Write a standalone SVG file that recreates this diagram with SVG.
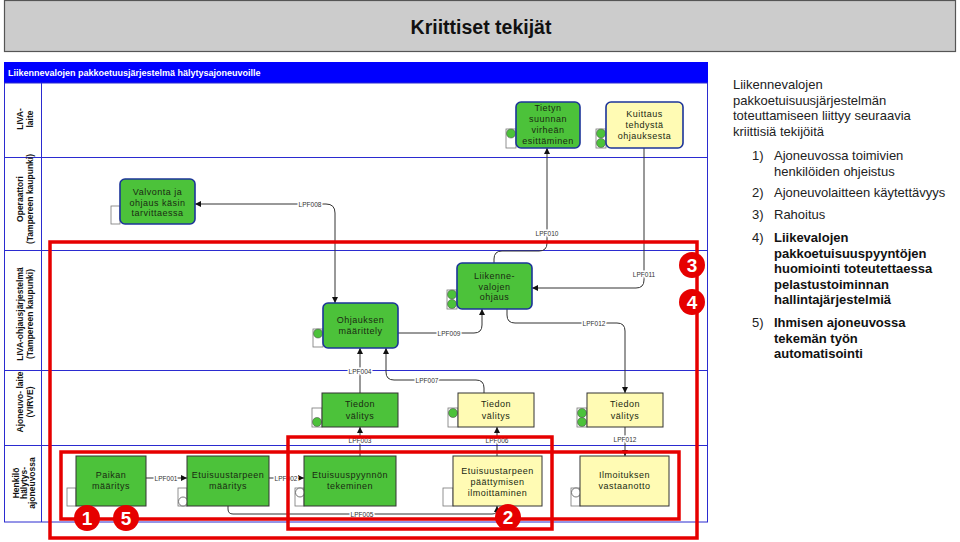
<svg xmlns="http://www.w3.org/2000/svg" width="960" height="542" viewBox="0 0 960 542">
<defs>
<style>
.lane{fill:none;stroke:#2b2bd0;stroke-width:1}
.lanelbl{font-family:"Liberation Sans",Arial,sans-serif;font-size:8.5px;font-weight:bold;fill:#111;text-anchor:middle}
.gr{fill:#4cc23a;stroke:#1c3499;stroke-width:1.6}
.ye{fill:#fffbb4;stroke:#1c3499;stroke-width:1.6}
.grs{fill:#4cc23a;stroke:#333;stroke-width:1}
.yes{fill:#fffbb4;stroke:#333;stroke-width:1}
.nt{font-family:"Liberation Sans",Arial,sans-serif;font-size:9px;letter-spacing:0.5px;fill:#1a2a12;text-anchor:middle}
.side{fill:#fff;stroke:#777;stroke-width:0.8}
.dot{fill:#4cc23a;stroke:#555;stroke-width:0.6}
.wdot{fill:#fff;stroke:#555;stroke-width:0.8}
.con{fill:none;stroke:#333;stroke-width:1}
.lpf{font-family:"Liberation Sans",Arial,sans-serif;font-size:6.5px;fill:#333;text-anchor:middle;paint-order:stroke;stroke:#fff;stroke-width:3px}
.red{fill:none;stroke:#e60000;stroke-width:3.5}
.badge{fill:#e60000}
.bt{font-family:"Liberation Sans",Arial,sans-serif;font-size:19px;font-weight:bold;fill:#fff;text-anchor:middle}
.rt{font-family:"Liberation Sans",Arial,sans-serif;font-size:13px;fill:#222}
.rb{font-family:"Liberation Sans",Arial,sans-serif;font-size:13px;font-weight:bold;fill:#111}
</style>
<marker id="arr" viewBox="0 0 6 6" refX="6" refY="3" markerWidth="6" markerHeight="6" markerUnits="userSpaceOnUse" orient="auto-start-reverse">
<path d="M0,0 L6,3 L0,6 z" fill="#111"/>
</marker>
</defs>
<rect width="960" height="542" fill="#fff"/>

<g id="title">
<rect x="4.5" y="0.5" width="951" height="51" fill="#cccccc" stroke="#555" stroke-width="1.2"/>
<text x="481" y="34" font-family="Liberation Sans,Arial,sans-serif" font-size="19.5" font-weight="bold" fill="#111" text-anchor="middle">Kriittiset tekijät</text>
</g>

<g id="pool">
<rect x="4" y="62" width="704" height="21" fill="#0000ff"/>
<text x="8" y="75.5" font-family="Liberation Sans,Arial,sans-serif" font-size="9" font-weight="bold" fill="#fff">Liikennevalojen pakkoetuusjärjestelmä hälytysajoneuvoille</text>
<rect x="4.5" y="83" width="703" height="439" class="lane"/>
<line x1="41.5" y1="83" x2="41.5" y2="522" class="lane"/>
<line x1="4.5" y1="157.5" x2="707.5" y2="157.5" class="lane"/>
<line x1="4.5" y1="250.5" x2="707.5" y2="250.5" class="lane"/>
<line x1="4.5" y1="370.5" x2="707.5" y2="370.5" class="lane"/>
<line x1="4.5" y1="445.5" x2="707.5" y2="445.5" class="lane"/>
<text class="lanelbl" transform="translate(23,119) rotate(-90)">LIVA-</text>
<text class="lanelbl" transform="translate(33,119) rotate(-90)">laite</text>
<text class="lanelbl" transform="translate(23,199) rotate(-90)">Operaattori</text>
<text class="lanelbl" transform="translate(33,199) rotate(-90)">(Tampereen kaupunki)</text>
<text class="lanelbl" transform="translate(23,314) rotate(-90)">LIVA-ohjausjärjestelmä</text>
<text class="lanelbl" transform="translate(33,314) rotate(-90)">(Tampereen kaupunki)</text>
<text class="lanelbl" transform="translate(23,402) rotate(-90)">Ajoneuvo- laite</text>
<text class="lanelbl" transform="translate(33,402) rotate(-90)">(VIRVE)</text>
<text class="lanelbl" transform="translate(19,483) rotate(-90)">Henkilö</text>
<text class="lanelbl" transform="translate(27,483) rotate(-90)">hälytys-</text>
<text class="lanelbl" transform="translate(35,483) rotate(-90)">ajoneuvossa</text>
</g>

<g id="connectors">
<path class="con" d="M195,204 L326,204 Q335,204 335,213 L335,303" marker-start="url(#arr)" marker-end="url(#arr)"/>
<path class="con" d="M398,333 L474,333 Q482,333 482,325 L482,309" marker-end="url(#arr)"/>
<path class="con" d="M494,263 L494,259 Q494,251 502,251 L539,251 Q547,251 547,243 L547,148" marker-end="url(#arr)"/>
<path class="con" d="M644,148 L644,280 Q644,288 636,288 L532,288" marker-end="url(#arr)"/>
<path class="con" d="M507,309 L507,315 Q507,323 515,323 L617,323 Q625,323 625,331 L625,393" marker-end="url(#arr)"/>
<path class="con" d="M625,427 L625,456" marker-end="url(#arr)"/>
<path class="con" d="M360,393 L360,348" marker-end="url(#arr)"/>
<path class="con" d="M484,393 L484,388 Q484,380 476,380 L394,380 Q386,380 386,372 L386,348" marker-end="url(#arr)"/>
<path class="con" d="M360,456 L360,427" marker-end="url(#arr)"/>
<path class="con" d="M497,456 L497,427" marker-end="url(#arr)"/>
<path class="con" d="M146,478 L187,478" marker-end="url(#arr)"/>
<path class="con" d="M269,478 L304,478" marker-end="url(#arr)"/>
<path class="con" d="M228,506 L228,509 Q228,514 233,514 L492,514 Q497,514 497,510 L497,506" marker-end="url(#arr)"/>
<text class="lpf" x="310" y="206.5">LPF008</text>
<text class="lpf" x="449" y="335.5">LPF009</text>
<text class="lpf" x="547" y="235.5">LPF010</text>
<text class="lpf" x="644" y="276.5">LPF011</text>
<text class="lpf" x="594" y="325.5">LPF012</text>
<text class="lpf" x="625" y="441.5">LPF012</text>
<text class="lpf" x="360" y="373.5">LPF004</text>
<text class="lpf" x="427" y="382.5">LPF007</text>
<text class="lpf" x="360" y="442.5">LPF003</text>
<text class="lpf" x="497" y="442.5">LPF006</text>
<text class="lpf" x="166" y="480.5">LPF001</text>
<text class="lpf" x="286" y="480.5">LPF002</text>
<text class="lpf" x="362" y="516.5">LPF005</text>
</g>

<g id="n-valvonta">
<rect class="side" x="111" y="206" width="9" height="18"/>
<rect class="gr" x="120" y="179" width="75" height="45" rx="5"/>
<text class="nt" x="157.5" y="195">Valvonta ja</text>
<text class="nt" x="157.5" y="205.5">ohjaus käsin</text>
<text class="nt" x="157.5" y="216">tarvittaessa</text>
</g>

<g id="n-ohjauksen">
<rect class="side" x="313" y="329" width="10" height="18"/>
<circle class="dot" cx="318" cy="333.5" r="4.5"/>
<rect class="gr" x="323" y="303" width="75" height="45" rx="5"/>
<text class="nt" x="360.5" y="323">Ohjauksen</text>
<text class="nt" x="360.5" y="334">määrittely</text>
</g>

<g id="n-liikenne">
<rect class="side" x="447" y="290" width="10" height="19"/>
<circle class="dot" cx="452" cy="294.5" r="4.5"/>
<circle class="dot" cx="452" cy="304" r="4.5"/>
<rect class="gr" x="457" y="263" width="75" height="46" rx="5"/>
<text class="nt" x="494.5" y="279">Liikenne-</text>
<text class="nt" x="494.5" y="289.5">valojen</text>
<text class="nt" x="494.5" y="300">ohjaus</text>
</g>

<g id="n-tietyn">
<rect class="side" x="506" y="129" width="10" height="19"/>
<circle class="dot" cx="511" cy="133.5" r="4.5"/>
<rect class="gr" x="516" y="102" width="64" height="46" rx="5"/>
<text class="nt" x="548" y="110.5">Tietyn</text>
<text class="nt" x="548" y="121.5">suunnan</text>
<text class="nt" x="548" y="132.5">virheän</text>
<text class="nt" x="548" y="143.5">esittäminen</text>
</g>

<g id="n-kuittaus">
<rect class="side" x="596" y="129" width="10" height="19"/>
<circle class="dot" cx="601" cy="133.5" r="4.5"/>
<circle class="dot" cx="601" cy="143" r="4.5"/>
<rect class="ye" x="606" y="102" width="77" height="46" rx="5"/>
<text class="nt" x="644.5" y="117">Kuittaus</text>
<text class="nt" x="644.5" y="128">tehdystä</text>
<text class="nt" x="644.5" y="139">ohjauksesta</text>
</g>

<g id="n-tiedon1">
<rect class="side" x="312" y="408" width="10" height="19"/>
<circle class="dot" cx="317" cy="422" r="4.5"/>
<rect class="grs" x="322" y="393" width="76" height="34"/>
<text class="nt" x="360" y="407">Tiedon</text>
<text class="nt" x="360" y="419">välitys</text>
</g>

<g id="n-tiedon2">
<rect class="side" x="448" y="408" width="10" height="19"/>
<circle class="dot" cx="453" cy="413" r="4.5"/>
<rect class="yes" x="458" y="393" width="76" height="34"/>
<text class="nt" x="496" y="407">Tiedon</text>
<text class="nt" x="496" y="419">välitys</text>
</g>

<g id="n-tiedon3">
<rect class="side" x="577" y="408" width="10" height="19"/>
<circle class="dot" cx="582" cy="413" r="4.5"/>
<circle class="dot" cx="582" cy="422" r="4.5"/>
<rect class="yes" x="587" y="393" width="76" height="34"/>
<text class="nt" x="625" y="407">Tiedon</text>
<text class="nt" x="625" y="419">välitys</text>
</g>

<g id="n-paikan">
<rect class="side" x="67" y="488" width="9" height="18"/>
<rect class="grs" x="76" y="456" width="70" height="50"/>
<text class="nt" x="111" y="478">Paikan</text>
<text class="nt" x="111" y="489">määritys</text>
</g>

<g id="n-etutarve">
<rect class="side" x="178" y="488" width="9" height="18"/>
<circle class="wdot" cx="183" cy="501.5" r="4.5"/>
<rect class="grs" x="187" y="456" width="82" height="50"/>
<text class="nt" x="228" y="478">Etuisuustarpeen</text>
<text class="nt" x="228" y="489">määritys</text>
</g>

<g id="n-etupyynto">
<rect class="side" x="295" y="488" width="9" height="18"/>
<circle class="wdot" cx="300" cy="492.5" r="4.5"/>
<rect class="grs" x="304" y="456" width="92" height="50"/>
<text class="nt" x="350" y="478">Etuisuuspyynnön</text>
<text class="nt" x="350" y="489">tekeminen</text>
</g>

<g id="n-etupaatos">
<rect class="side" x="443" y="488" width="10" height="18"/>
<rect class="yes" x="453" y="456" width="89" height="50"/>
<text class="nt" x="497.5" y="474">Etuisuustarpeen</text>
<text class="nt" x="497.5" y="485">päättymisen</text>
<text class="nt" x="497.5" y="496">ilmoittaminen</text>
</g>

<g id="n-ilmoitus">
<rect class="side" x="571" y="488" width="9" height="18"/>
<circle class="wdot" cx="576" cy="492.5" r="4.5"/>
<rect class="yes" x="580" y="456" width="89" height="50"/>
<text class="nt" x="624.5" y="478">Ilmoituksen</text>
<text class="nt" x="624.5" y="489">vastaanotto</text>
</g>

<g id="highlights">
<rect class="red" x="50" y="242" width="647" height="296" stroke-width="4"/>
<rect class="red" x="288" y="437" width="264" height="92"/>
<rect class="red" x="61" y="452" width="618" height="67"/>
<circle class="badge" cx="87" cy="518" r="13"/><text class="bt" x="87" y="525">1</text>
<circle class="badge" cx="126" cy="518" r="13"/><text class="bt" x="126" y="525">5</text>
<circle class="badge" cx="508" cy="517" r="13"/><text class="bt" x="508" y="524">2</text>
<circle class="badge" cx="692" cy="265" r="13"/><text class="bt" x="692" y="272">3</text>
<circle class="badge" cx="692" cy="302" r="13"/><text class="bt" x="692" y="309">4</text>
</g>

<g id="notes">
<text class="rt" x="733" y="89">Liikennevalojen</text>
<text class="rt" x="733" y="104.5">pakkoetuisuusjärjestelmän</text>
<text class="rt" x="733" y="120">toteuttamiseen liittyy seuraavia</text>
<text class="rt" x="733" y="135.5">kriittisiä tekijöitä</text>
<text class="rt" x="752" y="160">1)</text>
<text class="rt" x="774" y="160">Ajoneuvossa toimivien</text>
<text class="rt" x="774" y="175.5">henkilöiden ohjeistus</text>
<text class="rt" x="752" y="196.5">2)</text>
<text class="rt" x="774" y="196.5">Ajoneuvolaitteen käytettävyys</text>
<text class="rt" x="752" y="219">3)</text>
<text class="rt" x="774" y="219">Rahoitus</text>
<text class="rt" x="752" y="242">4)</text>
<text class="rb" x="774" y="242">Liikevalojen</text>
<text class="rb" x="774" y="257.5">pakkoetuisuuspyyntöjen</text>
<text class="rb" x="774" y="273">huomiointi toteutettaessa</text>
<text class="rb" x="774" y="288.5">pelastustoiminnan</text>
<text class="rb" x="774" y="304">hallintajärjestelmiä</text>
<text class="rt" x="752" y="327">5)</text>
<text class="rb" x="774" y="327">Ihmisen ajoneuvossa</text>
<text class="rb" x="774" y="342.5">tekemän työn</text>
<text class="rb" x="774" y="358">automatisointi</text>
</g>
</svg>
